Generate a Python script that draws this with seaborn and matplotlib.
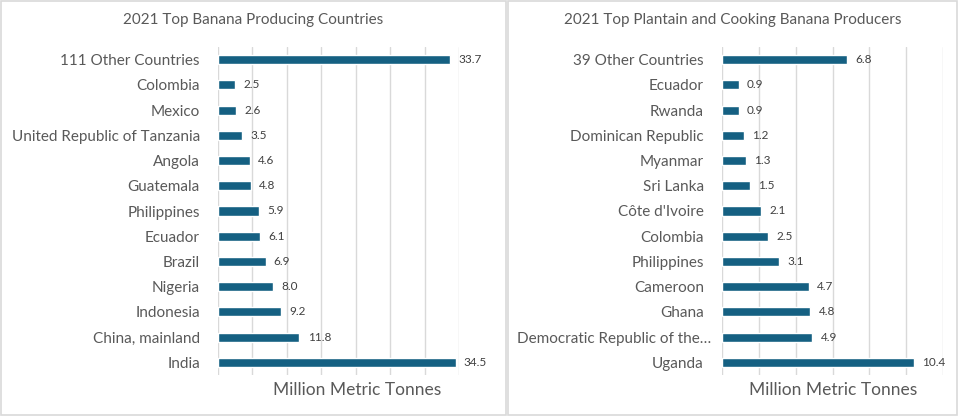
import matplotlib
matplotlib.use("Agg")
import matplotlib.pyplot as plt
import matplotlib.transforms as mtransforms
import seaborn as sns
import pandas as pd
from matplotlib.patches import Rectangle

banana_countries = ["111 Other Countries", "Colombia", "Mexico", "United Republic of Tanzania",
                    "Angola", "Guatemala", "Philippines", "Ecuador", "Brazil", "Nigeria",
                    "Indonesia", "China, mainland", "India"]
banana_values = [33.7, 2.5, 2.6, 3.5, 4.6, 4.8, 5.9, 6.1, 6.9, 8.0, 9.2, 11.8, 34.5]

plantain_countries = ["39 Other Countries", "Ecuador", "Rwanda", "Dominican Republic", "Myanmar",
                      "Sri Lanka", "Côte d'Ivoire", "Colombia", "Philippines", "Cameroon",
                      "Ghana", "Democratic Republic of the…", "Uganda"]
plantain_values = [6.8, 0.9, 0.9, 1.2, 1.3, 1.5, 2.1, 2.5, 3.1, 4.7, 4.8, 4.9, 10.4]

BAR = "#156082"
TEXT = "#595959"
GRID = "#D9D9D9"

sns.set_theme(style="white")
plt.rcParams['font.family'] = ['Lato', 'DejaVu Sans']

W, H = 958, 418
fig = plt.figure(figsize=(W / 100, H / 100), dpi=100)


def px_box(x0, y0, x1, y1):
    return [x0 / W, 1 - y1 / H, (x1 - x0) / W, (y1 - y0) / H]


def draw_panel(box, ax_box, cats, vals, xmax, step, title, label_x):
    # panel frame
    x0, y0, x1, y1 = box
    fig.patches.append(Rectangle((x0 / W, 1 - y1 / H), (x1 - x0) / W, (y1 - y0) / H,
                                 transform=fig.transFigure, fill=False,
                                 edgecolor="#D9D9D9", linewidth=1.2))
    fig.text((x0 + x1) / 2 / W, 1 - 20 / H, title, ha="center", va="center",
             fontsize=11, color=TEXT)

    ax = fig.add_axes(px_box(*ax_box))
    df = pd.DataFrame({"country": cats, "value": vals})
    sns.barplot(data=df, x="value", y="country", orient="h", color=BAR,
                width=0.36, saturation=1, ax=ax)
    ax.set_xlim(0, xmax)
    ax.set_ylim(len(cats) - 0.5, -0.5)
    ax.set_xticks(range(0, xmax + 1, step))
    ax.set_xticklabels([])
    ax.xaxis.grid(True, color=GRID, linewidth=1)
    ax.set_axisbelow(True)
    for s in ax.spines.values():
        s.set_visible(False)
    ax.tick_params(axis="y", length=0, pad=13, labelsize=11, labelcolor=TEXT)
    ax.tick_params(axis="x", length=0)
    ax.set_ylabel("")
    ax.set_xlabel("")
    fig.text(label_x / W, 1 - 390 / H, "Million Metric Tonnes", ha="center", va="center",
             fontsize=12.5, color=TEXT)

    # truncated label sits closer to the bars, like Excel does it
    shift = mtransforms.ScaledTranslation(7 / 100, 0, fig.dpi_scale_trans)
    for lbl in ax.get_yticklabels():
        if lbl.get_text().endswith("…"):
            lbl.set_transform(lbl.get_transform() + shift)

    for p, v in zip(ax.patches, vals):
        ax.annotate(f"{v:.1f}", (p.get_width(), p.get_y() + p.get_height() / 2),
                    xytext=(6, 0), textcoords="offset points", ha="left", va="center",
                    fontsize=8.5, color="#404040")
    return ax


draw_panel((1, 1, 506, 415), (218, 47, 459, 375), banana_countries, banana_values,
           35, 5, "2021 Top Banana Producing Countries", 357)
draw_panel((508, 1, 957, 415), (722, 47, 943, 375), plantain_countries, plantain_values,
           12, 2, "2021 Top Plantain and Cooking Banana Producers", 833)

fig.savefig("out.png", dpi=100, facecolor="white")
